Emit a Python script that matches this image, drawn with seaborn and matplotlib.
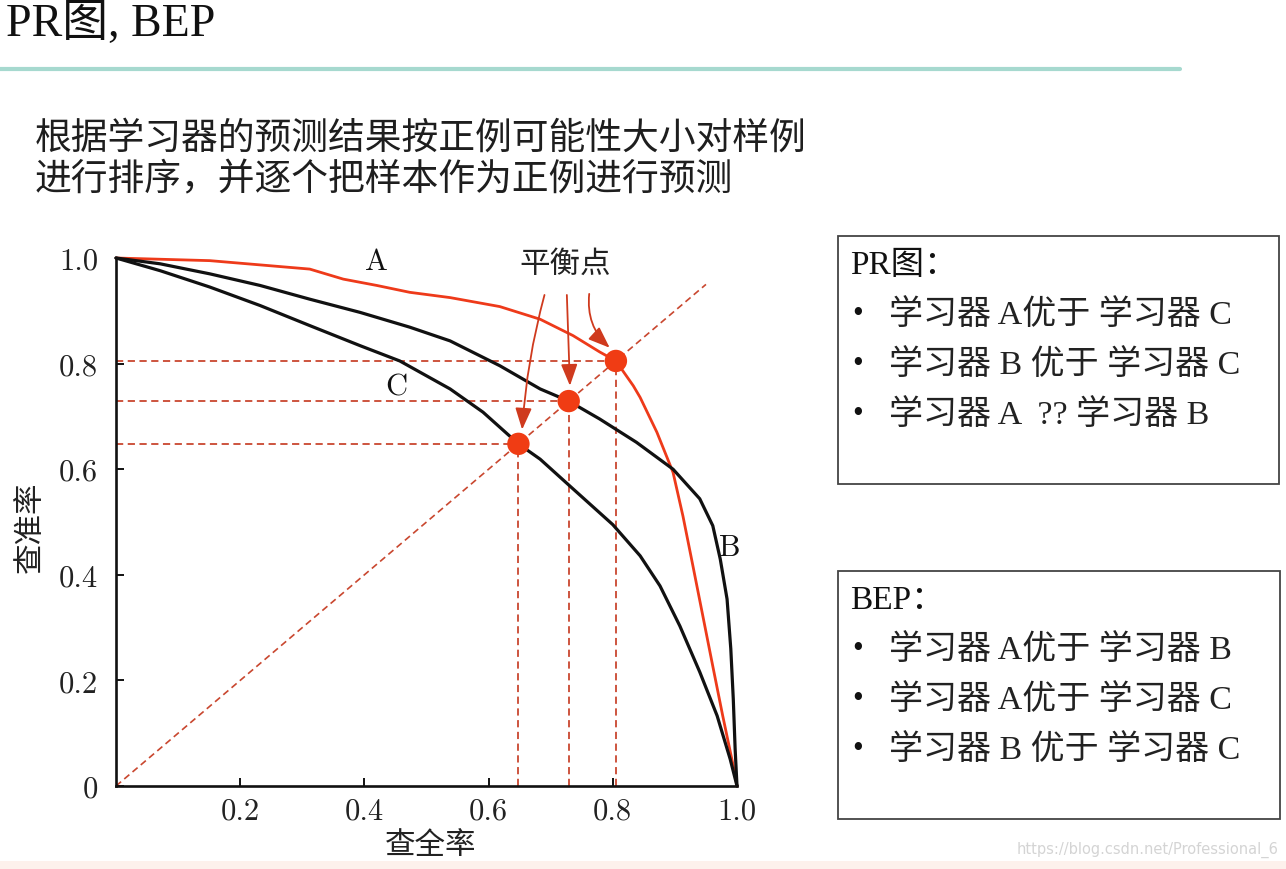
import numpy as np
import pandas as pd
import matplotlib
matplotlib.use("Agg")
import matplotlib.pyplot as plt
from matplotlib.patches import Rectangle
from matplotlib.lines import Line2D
import seaborn as sns

# ---------------- data ----------------
recall_A = [0.0, 0.151, 0.312, 0.366, 0.420, 0.473, 0.538, 0.618, 0.683, 0.736, 0.779, 0.805,
            0.833, 0.844, 0.871, 0.897, 0.913, 0.929, 0.945, 0.961, 0.977, 0.994, 1.0]
precision_A = [1.0, 0.995, 0.979, 0.960, 0.948, 0.935, 0.925, 0.908, 0.884, 0.853, 0.822, 0.805,
               0.758, 0.736, 0.670, 0.594, 0.511, 0.417, 0.322, 0.227, 0.133, 0.038, 0.0]

recall_B = [0.0, 0.071, 0.151, 0.232, 0.312, 0.393, 0.473, 0.538, 0.618, 0.683, 0.729, 0.779,
            0.838, 0.897, 0.940, 0.961, 0.973, 0.984, 0.990, 0.994, 0.997, 1.0]
precision_B = [1.0, 0.989, 0.970, 0.948, 0.922, 0.897, 0.869, 0.843, 0.796, 0.752, 0.729, 0.695,
               0.651, 0.600, 0.544, 0.493, 0.430, 0.354, 0.260, 0.165, 0.070, 0.0]

recall_C = [0.0, 0.071, 0.151, 0.232, 0.312, 0.393, 0.457, 0.538, 0.591, 0.648, 0.683, 0.731,
            0.800, 0.844, 0.876, 0.908, 0.940, 0.968, 0.989, 1.0]
precision_C = [1.0, 0.976, 0.945, 0.910, 0.872, 0.834, 0.805, 0.752, 0.708, 0.648, 0.619, 0.568,
               0.495, 0.436, 0.379, 0.303, 0.216, 0.133, 0.051, 0.0]

learners = ["A", "B", "C"]
bep_values = [0.805, 0.729, 0.648]          # break-even points of A, B, C
diag_extent = [0.0, 0.95]

xticks = [0.2, 0.4, 0.6, 0.8, 1.0]
xtick_labels = ["0.2", "0.4", "0.6", "0.8", "1.0"]
yticks = [0.0, 0.2, 0.4, 0.6, 0.8, 1.0]
ytick_labels = ["0", "0.2", "0.4", "0.6", "0.8", "1.0"]

title = "PR图, BEP"
subtitle = ["根据学习器的预测结果按正例可能性大小对样例", "进行排序，并逐个把样本作为正例进行预测"]
pr_head = "PR图："
pr_items = ["学习器 A优于 学习器 C", "学习器 B 优于 学习器 C", "学习器 A  ?? 学习器 B"]
bep_head = "BEP："
bep_items = ["学习器 A优于 学习器 B", "学习器 A优于 学习器 C", "学习器 B 优于 学习器 C"]
watermark = "https://blog.csdn.net/Professional_6"

# ---------------- style ----------------
sns.set_theme(style="ticks")
plt.rcParams["font.family"] = ["Liberation Serif", "Noto Sans CJK SC", "DejaVu Sans"]

W, H = 1286, 870
fig = plt.figure(figsize=(W / 100, H / 100), dpi=100)
fig.patch.set_facecolor("white")

def fx(px):
    return px / W

def fy(py):
    return 1 - py / H

RED = "#ee3a1a"
DASH = "#c9472f"
DOT = "#f03c14"
ARROW = "#cf3a1e"

# ---------------- axes ----------------
ax = fig.add_axes([fx(116), fy(787), fx(737) - fx(116), fy(259) - fy(787)])
ax.set_facecolor("white")
ax.set_xlim(0, 1)
ax.set_ylim(0, 1)

# dashed guide lines
ax.plot(diag_extent, diag_extent, ls=(0, (4, 2.5)), color=DASH, lw=1.2, zorder=1)
for v in bep_values:
    ax.plot([0, v], [v, v], ls=(0, (4, 2.5)), color=DASH, lw=1.3, zorder=1)
    ax.plot([v, v], [0, v], ls=(0, (4, 2.5)), color=DASH, lw=1.3, zorder=1)

curves = pd.concat([
    pd.DataFrame({"recall": recall_A, "precision": precision_A, "learner": "A"}),
    pd.DataFrame({"recall": recall_B, "precision": precision_B, "learner": "B"}),
    pd.DataFrame({"recall": recall_C, "precision": precision_C, "learner": "C"}),
])
colors = {"A": RED, "B": "#111111", "C": "#111111"}
widths = {"A": 2.0, "B": 2.3, "C": 2.3}
for name in learners:
    sub = curves[curves["learner"] == name]
    sns.lineplot(data=sub, x="recall", y="precision", color=colors[name],
                 lw=widths[name], sort=False, estimator=None, ax=ax,
                 legend=False, zorder=3, clip_on=False,
                 solid_joinstyle="round", solid_capstyle="round")

bep_df = pd.DataFrame({"recall": bep_values, "precision": bep_values, "learner": learners})
sns.scatterplot(data=bep_df, x="recall", y="precision", color=DOT, s=260,
                edgecolor="none", ax=ax, zorder=5, legend=False, clip_on=False)

# curve labels
lab_kw = dict(fontfamily="cmr10", fontsize=22, color="#111111", ha="center", va="center")
ax.text(0.419, 0.994, "A", **lab_kw)
ax.text(0.452, 0.757, "C", **lab_kw)
ax.text(0.989, 0.453, "B", **lab_kw)

# balance-point arrows
ax.text(0.723, 0.99, "平衡点", fontsize=22, ha="center", va="center",
        fontfamily=["Noto Sans CJK SC"], color="#222222")
arr = dict(arrowstyle="-|>,head_length=1.1,head_width=0.42", color=ARROW, lw=1.3,
           shrinkA=0, shrinkB=0)
ax.annotate("", xy=(0.654, 0.675), xytext=(0.69, 0.93),
            arrowprops=dict(connectionstyle="arc3,rad=0.05", **arr))
ax.annotate("", xy=(0.731, 0.758), xytext=(0.726, 0.93),
            arrowprops=dict(connectionstyle="arc3,rad=0.0", **arr))
ax.annotate("", xy=(0.795, 0.83), xytext=(0.762, 0.932),
            arrowprops=dict(connectionstyle="arc3,rad=0.25", **arr))

# spines and ticks
sns.despine(ax=ax)
for s in ["left", "bottom"]:
    ax.spines[s].set_linewidth(1.9)
    ax.spines[s].set_color("#111111")
ax.set_xticks(xticks)
ax.set_xticklabels(xtick_labels, fontfamily="cmr10", fontsize=22, color="#222222")
ax.set_yticks(yticks)
ax.set_yticklabels(ytick_labels, fontfamily="cmr10", fontsize=22, color="#222222")
ax.tick_params(direction="in", length=6, width=1.4, color="#111111")
ax.tick_params(axis="x", pad=8)
ax.tick_params(axis="y", pad=13)
ax.set_xlabel("")
ax.set_ylabel("")

fig.text(fx(431), fy(846), "查全率", fontsize=22, ha="center", va="center",
         fontfamily=["Noto Sans CJK SC"], color="#222222")
fig.text(fx(30), fy(527), "查准率", fontsize=22, ha="center", va="center",
         rotation=90, fontfamily=["Noto Sans CJK SC"], color="#222222")

# ---------------- slide decoration ----------------
fig.text(fx(6), fy(24), title, fontsize=33, ha="left", va="center", color="#111111")
fig.add_artist(Line2D([0, fx(1180)], [fy(70), fy(70)], color="#a6d9cf", lw=3))
for i, line in enumerate(subtitle):
    fig.text(fx(35), fy(138 + 42 * i), line, fontsize=26.5, ha="left", va="center",
             fontfamily=["Noto Sans CJK SC"], color="#1e1e1e")

def box(x0, y0, x1, y1, head, items, head_y, item_y0):
    fig.add_artist(Rectangle((fx(x0), fy(y1)), fx(x1) - fx(x0), fy(y0) - fy(y1),
                             transform=fig.transFigure, fill=False,
                             edgecolor="#444444", lw=1.3))
    fig.text(fx(850), fy(head_y), head, fontsize=24, ha="left", va="center", color="#111111")
    for k, it in enumerate(items):
        yy = fy(item_y0 + 50 * k)
        fig.text(fx(858), yy, "•", fontsize=22, ha="center", va="center", color="#111111")
        fig.text(fx(889), yy, it, fontsize=24.5, ha="left", va="center", color="#222222")

box(838, 237, 1279, 485, pr_head, pr_items, 266, 315)
box(838, 572, 1280, 820, bep_head, bep_items, 601, 650)

fig.add_artist(Rectangle((0, 0), 1, 8 / H, transform=fig.transFigure,
                         facecolor="#fdf1ec", edgecolor="none"))
fig.text(fx(1278), fy(850), watermark, fontsize=10.5, ha="right", va="center",
         fontfamily=["DejaVu Sans"], color="#d4d4d4")

fig.savefig("out.png", dpi=100)
